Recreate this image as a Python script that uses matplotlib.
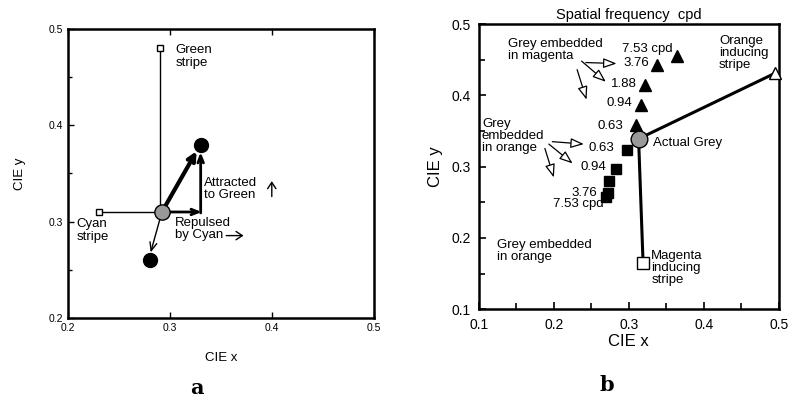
import matplotlib
matplotlib.use("Agg")
import matplotlib.pyplot as plt
from matplotlib.ticker import MultipleLocator

plt.rcParams['font.family'] = ['Liberation Sans', 'DejaVu Sans']

# ---------------- Panel a data ----------------
a_grey = (0.292, 0.31)
a_green_stripe = (0.29, 0.48)
a_cyan_stripe = (0.23, 0.31)
a_attracted = (0.33, 0.38)
a_repulsed = (0.28, 0.26)
a_corner = (0.33, 0.31)

# ---------------- Panel b data ----------------
b_grey = (0.313, 0.339)
b_orange_stripe = (0.495, 0.431)
b_magenta_stripe = (0.319, 0.165)
tri_labels = ["7.53 cpd", "3.76", "1.88", "0.94", "0.63"]
tri_x = [0.364, 0.338, 0.321, 0.316, 0.309]
tri_y = [0.455, 0.443, 0.414, 0.387, 0.359]
sq_labels = ["0.63", "0.94", "", "3.76", "7.53 cpd"]
sq_x = [0.298, 0.283, 0.274, 0.272, 0.270]
sq_y = [0.323, 0.296, 0.280, 0.263, 0.257]

# label anchor positions (right edge, centre) for the frequency labels
tri_label_pos = [(0.359, 0.4645), (0.327, 0.445), (0.311, 0.4154), (0.304, 0.389), (0.293, 0.357)]
sq_label_pos = [(0.281, 0.3255), (0.270, 0.2997), None, (0.258, 0.2632), (0.266, 0.2474)]

fig = plt.figure(figsize=(7.89, 4.01), dpi=100)

# ================= Panel a =================
ax = fig.add_axes([0.0862, 0.207, 0.388, 0.721])
ax.set_xlim(0.2, 0.5)
ax.set_ylim(0.2, 0.5)
ax.xaxis.set_major_locator(MultipleLocator(0.1))
ax.yaxis.set_major_locator(MultipleLocator(0.1))
ax.yaxis.set_minor_locator(MultipleLocator(0.05))
ax.tick_params(which='both', direction='in', labelsize=7.5, top=True, right=False, width=1)
ax.tick_params(which='major', length=4)
ax.tick_params(which='minor', length=3)
for s in ax.spines.values():
    s.set_linewidth(1.8)

ax.plot([a_green_stripe[0], a_green_stripe[0]], [a_green_stripe[1], a_grey[1]], color='black', lw=1, zorder=2)
ax.plot([a_cyan_stripe[0], a_grey[0]], [a_cyan_stripe[1], a_grey[1]], color='black', lw=1, zorder=2)
ax.plot(*a_green_stripe, marker='s', ms=5, mfc='white', mec='black', mew=1, zorder=4)
ax.plot(*a_cyan_stripe, marker='s', ms=5, mfc='white', mec='black', mew=1, zorder=4)

ax.annotate("", xy=(a_attracted[0] - 0.004, a_attracted[1] - 0.007), xytext=a_grey,
            arrowprops=dict(arrowstyle='->,head_length=0.5,head_width=0.25', lw=3, color='black', shrinkA=0, shrinkB=0), zorder=3)
ax.annotate("", xy=(a_corner[0] + 0.001, a_corner[1]), xytext=a_grey,
            arrowprops=dict(arrowstyle='->,head_length=0.5,head_width=0.2', lw=2, color='black', shrinkA=0, shrinkB=0), zorder=3)
ax.annotate("", xy=(a_attracted[0], a_attracted[1] - 0.008), xytext=(a_corner[0], a_corner[1] - 0.001),
            arrowprops=dict(arrowstyle='->,head_length=0.5,head_width=0.2', lw=2, color='black', shrinkA=0, shrinkB=0), zorder=3)
ax.annotate("", xy=(a_repulsed[0] + 0.001, a_repulsed[1] + 0.008), xytext=a_grey,
            arrowprops=dict(arrowstyle='->,head_length=0.6,head_width=0.25', lw=1, color='black', shrinkA=0, shrinkB=0), zorder=3)

ax.plot(*a_grey, marker='o', ms=11, mfc='#999999', mec='black', mew=1, zorder=5)
ax.plot(*a_attracted, marker='o', ms=10, color='black', zorder=5)
ax.plot(*a_repulsed, marker='o', ms=10, color='black', zorder=5)

ax.text(0.305, 0.484, "Green\nstripe", fontsize=9.5, va='top', ha='left', linespacing=1.05)
ax.text(0.333, 0.334, "Attracted\nto Green", fontsize=9.5, va='center', ha='left', linespacing=1.05)
ax.text(0.305, 0.2924, "Repulsed\nby Cyan", fontsize=9.5, va='center', ha='left', linespacing=1.05)
ax.text(0.208, 0.291, "Cyan\nstripe", fontsize=9.5, va='center', ha='left', linespacing=1.05)
# small direction arrows
ax.annotate("", xy=(0.3997, 0.342), xytext=(0.3997, 0.326),
            arrowprops=dict(arrowstyle='->,head_length=0.45,head_width=0.3', lw=1, color='black', shrinkA=0, shrinkB=0))
ax.annotate("", xy=(0.372, 0.2855), xytext=(0.355, 0.2855),
            arrowprops=dict(arrowstyle='->,head_length=0.45,head_width=0.3', lw=1, color='black', shrinkA=0, shrinkB=0))

ax.set_xlabel("CIE x", fontsize=9.5, labelpad=14)
ax.set_ylabel("CIE y", fontsize=9.5, labelpad=16)
fig.text(197 / 789, 1 - 388 / 401, "a", fontsize=15, fontweight='bold', family='DejaVu Serif', ha='center', va='center')

# ================= Panel b =================
bx = fig.add_axes([0.607, 0.229, 0.380, 0.711])
bx.set_xlim(0.1, 0.5)
bx.set_ylim(0.1, 0.5)
bx.xaxis.set_major_locator(MultipleLocator(0.1))
bx.yaxis.set_major_locator(MultipleLocator(0.1))
bx.xaxis.set_minor_locator(MultipleLocator(0.05))
bx.yaxis.set_minor_locator(MultipleLocator(0.05))
bx.tick_params(which='both', direction='in', labelsize=10, width=1.2)
bx.tick_params(which='major', length=5, pad=6)
bx.tick_params(which='minor', length=4)
for s in bx.spines.values():
    s.set_linewidth(1.8)

bx.plot([b_grey[0], b_orange_stripe[0]], [b_grey[1], b_orange_stripe[1]], color='black', lw=2.2, zorder=2)
bx.plot([b_grey[0], b_magenta_stripe[0]], [b_grey[1], b_magenta_stripe[1]], color='black', lw=2.2, zorder=2)
bx.plot(*b_orange_stripe, marker='^', ms=9, mfc='white', mec='black', mew=1, zorder=4, clip_on=False)
bx.plot(*b_magenta_stripe, marker='s', ms=8, mfc='white', mec='black', mew=1, zorder=4)

bx.plot(tri_x, tri_y, ls='none', marker='^', ms=8, color='black', zorder=4)
bx.plot(sq_x, sq_y, ls='none', marker='s', ms=7.5, color='black', zorder=4)
bx.plot(*b_grey, marker='o', ms=12, mfc='#999999', mec='black', mew=1, zorder=5)

for lab, pos in zip(tri_labels, tri_label_pos):
    bx.text(pos[0], pos[1], lab, fontsize=9.5, ha='right', va='center')
for lab, pos in zip(sq_labels, sq_label_pos):
    if lab and pos:
        bx.text(pos[0], pos[1], lab, fontsize=9.5, ha='right', va='center')

bx.text(0.139, 0.480, "Grey embedded\nin magenta", fontsize=9.5, ha='left', va='top', linespacing=1.0)
bx.text(0.104, 0.368, "Grey\nembedded\nin orange", fontsize=9.5, ha='left', va='top', linespacing=1.0)
bx.text(0.124, 0.199, "Grey embedded\nin orange", fontsize=9.5, ha='left', va='top', linespacing=1.0)
bx.text(0.4204, 0.484, "Orange\ninducing\nstripe", fontsize=9.5, ha='left', va='top', linespacing=1.0)
bx.text(0.332, 0.3334, "Actual Grey", fontsize=9.5, ha='left', va='center')
bx.text(0.330, 0.183, "Magenta\ninducing\nstripe", fontsize=9.5, ha='left', va='top', linespacing=1.0)

open_head = dict(arrowstyle='-|>,head_length=0.8,head_width=0.3', lw=0.9, color='black', fc='white', shrinkA=0, shrinkB=0)
b_arrows = [
    ((0.2427, 0.446), (0.2836, 0.4446)),
    ((0.237, 0.448), (0.2693, 0.419)),
    ((0.231, 0.436), (0.2436, 0.394)),
    ((0.198, 0.335), (0.240, 0.3316)),
    ((0.1933, 0.3316), (0.225, 0.3045)),
    ((0.188, 0.3255), (0.200, 0.2848)),
]
for (x0, y0), (x1, y1) in b_arrows:
    bx.annotate("", xy=(x1, y1), xytext=(x0, y0), arrowprops=open_head)

bx.set_title("Spatial frequency  cpd", fontsize=10.5, pad=4)
bx.set_xlabel("CIE x", fontsize=12, labelpad=2)
bx.set_ylabel("CIE y", fontsize=12, labelpad=6)
fig.text(607 / 789, 1 - 385 / 401, "b", fontsize=15, fontweight='bold', family='DejaVu Serif', ha='center', va='center')

fig.savefig("out.png", dpi=100)
